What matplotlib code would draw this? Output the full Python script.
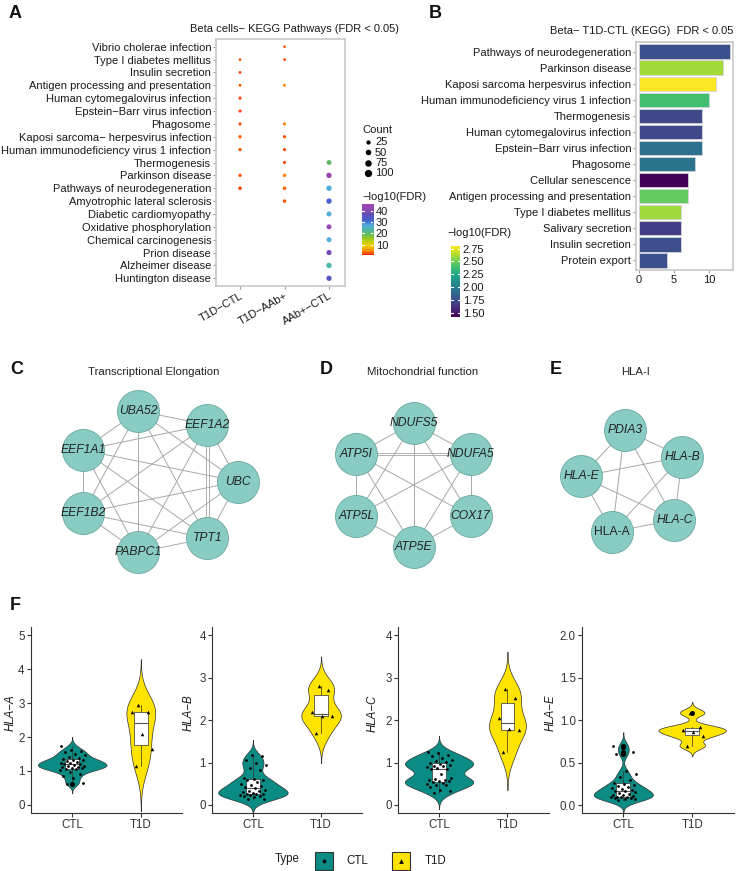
import numpy as np
import matplotlib
matplotlib.use('Agg')
import matplotlib.pyplot as plt
from matplotlib.colors import LinearSegmentedColormap, Normalize
from matplotlib.patches import Rectangle
import matplotlib.transforms as mtransforms
from itertools import combinations

# ---------------- DATA ----------------
pathways_A = ['Vibrio cholerae infection', 'Type I diabetes mellitus', 'Insulin secretion',
              'Antigen processing and presentation', 'Human cytomegalovirus infection',
              'Epstein\u2212Barr virus infection', 'Phagosome',
              'Kaposi sarcoma\u2212 herpesvirus infection',
              'Human immunodeficiency virus 1 infection', 'Thermogenesis', 'Parkinson disease',
              'Pathways of neurodegeneration', 'Amyotrophic lateral sclerosis',
              'Diabetic cardiomyopathy', 'Oxidative phosphorylation', 'Chemical carcinogenesis',
              'Prion disease', 'Alzheimer disease', 'Huntington disease']
comparisons_A = ['T1D\u2212CTL', 'T1D\u2212AAb+', 'AAb+\u2212CTL']

t1d_ctl_paths = ['Type I diabetes mellitus', 'Insulin secretion', 'Antigen processing and presentation',
                 'Human cytomegalovirus infection', 'Epstein\u2212Barr virus infection', 'Phagosome',
                 'Kaposi sarcoma\u2212 herpesvirus infection', 'Human immunodeficiency virus 1 infection',
                 'Parkinson disease', 'Pathways of neurodegeneration']
t1d_ctl_count = [6, 6, 7, 9, 9, 8, 11, 10, 12, 13]
t1d_ctl_logfdr = [2.61, 1.75, 2.47, 1.72, 1.93, 1.95, 2.79, 2.38, 2.61, 1.76]

t1d_aab_paths = ['Vibrio cholerae infection', 'Type I diabetes mellitus', 'Antigen processing and presentation',
                 'Phagosome', 'Kaposi sarcoma\u2212 herpesvirus infection',
                 'Human immunodeficiency virus 1 infection', 'Thermogenesis', 'Parkinson disease',
                 'Pathways of neurodegeneration', 'Amyotrophic lateral sclerosis']
t1d_aab_count = [5, 6, 8, 9, 11, 10, 10, 13, 14, 13]
t1d_aab_logfdr = [2.4, 2.0, 4.6, 4.2, 2.6, 2.5, 2.4, 4.3, 3.0, 2.6]

aab_ctl_paths = ['Thermogenesis', 'Parkinson disease', 'Pathways of neurodegeneration',
                 'Amyotrophic lateral sclerosis', 'Diabetic cardiomyopathy', 'Oxidative phosphorylation',
                 'Chemical carcinogenesis', 'Prion disease', 'Alzheimer disease', 'Huntington disease']
aab_ctl_count = [36, 46, 50, 47, 38, 37, 38, 42, 48, 44]
aab_ctl_logfdr = [20, 43, 27, 32, 27, 42, 27, 39, 24, 35]

count_breaks_A = [25, 50, 75, 100]
fdr_breaks_A = [10, 20, 30, 40]

pathways_B = ['Pathways of neurodegeneration', 'Parkinson disease', 'Kaposi sarcoma herpesvirus infection',
              'Human immunodeficiency virus 1 infection', 'Thermogenesis', 'Human cytomegalovirus infection',
              'Epstein\u2212Barr virus infection', 'Phagosome', 'Cellular senescence',
              'Antigen processing and presentation', 'Type I diabetes mellitus', 'Salivary secretion',
              'Insulin secretion', 'Protein export']
count_B = [13, 12, 11, 10, 9, 9, 9, 8, 7, 7, 6, 6, 6, 4]
logfdr_B = [1.76, 2.61, 2.79, 2.38, 1.72, 1.72, 1.93, 1.95, 1.43, 2.47, 2.60, 1.67, 1.75, 1.76]
fdr_breaks_B = [1.50, 1.75, 2.00, 2.25, 2.50, 2.75]
count_ticks_B = [0, 5, 10]

net_C_title = 'Transcriptional Elongation'
net_C_genes = ['UBC', 'EEF1A2', 'UBA52', 'EEF1A1', 'EEF1B2', 'PABPC1', 'TPT1']
net_C_edges = list(combinations(net_C_genes, 2))
net_C_double = [('EEF1A2', 'TPT1')]

net_D_title = 'Mitochondrial function'
net_D_genes = ['NDUFS5', 'ATP5I', 'ATP5L', 'ATP5E', 'COX17', 'NDUFA5']
net_D_edges = [e for e in combinations(net_D_genes, 2) if set(e) != {'ATP5L', 'COX17'}]
net_D_double = [('ATP5I', 'NDUFA5')]

net_E_title = 'HLA-I'
net_E_genes = ['PDIA3', 'HLA-B', 'HLA-C', 'HLA-A', 'HLA-E']
net_E_edges = list(combinations(net_E_genes, 2))
net_E_double = []
upright_genes = ['HLA-A']

groups_F = ['CTL', 'T1D']
genes_F = ['HLA\u2212A', 'HLA\u2212B', 'HLA\u2212C', 'HLA\u2212E']
ctl_A = [0.62, 0.66, 0.78, 0.85, 0.92, 0.98, 1.02, 1.05, 1.07, 1.08, 1.10, 1.12, 1.13, 1.15, 1.16,
         1.18, 1.20, 1.21, 1.23, 1.25, 1.27, 1.29, 1.31, 1.33, 1.35, 1.38, 1.42, 1.47, 1.50, 1.55,
         1.58, 1.63, 1.73]
t1d_A = [1.16, 1.65, 2.08, 2.75, 2.75, 2.95]
ctl_B = [0.13, 0.15, 0.18, 0.20, 0.22, 0.23, 0.24, 0.25, 0.26, 0.27, 0.28, 0.30, 0.32, 0.34, 0.36,
         0.40, 0.42, 0.44, 0.46, 0.50, 0.55, 0.58, 0.60, 0.62, 0.63, 0.82, 0.87, 0.95, 1.00, 1.05,
         1.15, 1.17]
t1d_B = [1.69, 2.09, 2.09, 2.20, 2.72, 2.80]
ctl_C = [0.28, 0.32, 0.36, 0.42, 0.46, 0.48, 0.50, 0.52, 0.54, 0.56, 0.57, 0.58, 0.60, 0.61, 0.63,
         0.72, 0.84, 0.86, 0.88, 0.90, 0.92, 0.93, 0.95, 0.97, 1.00, 1.02, 1.04, 1.07, 1.10, 1.15,
         1.18, 1.22, 1.25]
t1d_C = [1.24, 1.77, 1.80, 2.05, 2.53, 2.73]
ctl_E = [0.06, 0.07, 0.07, 0.08, 0.08, 0.09, 0.09, 0.10, 0.10, 0.11, 0.12, 0.12, 0.13, 0.14, 0.15,
         0.16, 0.17, 0.18, 0.19, 0.20, 0.21, 0.22, 0.24, 0.25, 0.26, 0.30, 0.33, 0.37, 0.40, 0.60,
         0.62, 0.69, 0.70]
t1d_E = [0.70, 0.81, 0.86, 0.89, 0.92, 1.09]
yticks_F = [[0, 1, 2, 3, 4, 5], [0, 1, 2, 3, 4], [0, 1, 2, 3, 4], [0.0, 0.5, 1.0, 1.5, 2.0]]

# ---------------- STYLE / LAYOUT ----------------
W, H = 736, 871
plt.rcParams['font.family'] = ['Liberation Sans', 'DejaVu Sans']
fig = plt.figure(figsize=(W / 100, H / 100), dpi=100)


def rect(l, t, r, b):
    return [l / W, 1 - b / H, (r - l) / W, (b - t) / H]


def P(x, y):
    return (x / W, 1 - y / H)


TXT = '#1a1a1a'
cA_vals = [1, 4, 9, 13, 19, 24, 27, 31, 36, 42, 46]
cA_cols = ['#FF2200', '#FF8000', '#F2D000', '#BFD000', '#66BB55', '#4DB8B0', '#55AEDB',
           '#4169D0', '#5E50B8', '#9448B0', '#A046B0']
cmapA = LinearSegmentedColormap.from_list(
    'rb', [((v - cA_vals[0]) / (cA_vals[-1] - cA_vals[0]), c) for v, c in zip(cA_vals, cA_cols)])
normA = Normalize(1, 46)
cmapB = plt.get_cmap('viridis')
normB = Normalize(1.42, 2.80)

# overlay axes in pixel coordinates
ov = fig.add_axes([0, 0, 1, 1], zorder=5)
ov.set_xlim(0, W)
ov.set_ylim(H, 0)
ov.axis('off')
ov.patch.set_alpha(0)

# panel letters
for lab, (x, y) in zip('ABCDEF', [(15, 14), (435, 13), (17, 370), (326, 370), (556, 370), (15, 605)]):
    fig.text(*P(x, y), lab, fontsize=13, fontweight='bold', ha='center', va='center', color='#111111')

# ---------------- PANEL A ----------------
axA = fig.add_axes(rect(216, 39, 345, 286))
nA = len(pathways_A)
ypos = {p: nA - i for i, p in enumerate(pathways_A)}


def size_fn(c):
    d_px = 0.6 * np.sqrt(np.asarray(c, float)) + 1.3
    return (d_px * 0.72) ** 2


for j, (paths, cnts, vals) in enumerate([(t1d_ctl_paths, t1d_ctl_count, t1d_ctl_logfdr),
                                         (t1d_aab_paths, t1d_aab_count, t1d_aab_logfdr),
                                         (aab_ctl_paths, aab_ctl_count, aab_ctl_logfdr)]):
    axA.scatter([j + 1] * len(paths), [ypos[p] for p in paths], s=size_fn(cnts), c=vals,
                cmap=cmapA, norm=normA, linewidths=0, zorder=3)
axA.set_xlim(0.46, 3.36)
axA.set_ylim(0.4, nA + 0.6)
axA.set_yticks(range(1, nA + 1))
axA.set_yticklabels(pathways_A[::-1])
axA.set_xticks([1, 2, 3])
axA.set_xticklabels(comparisons_A, rotation=30, ha='right', va='top', rotation_mode='anchor')
off = mtransforms.ScaledTranslation(16 / 100, 1 / 100, fig.dpi_scale_trans)
for lab in axA.get_xticklabels():
    lab.set_transform(lab.get_transform() + off)
for sp in axA.spines.values():
    sp.set_color('#c8c8c8')
    sp.set_linewidth(1.2)
axA.tick_params(length=2, color='#999999', labelsize=8, pad=1.5, labelcolor=TXT)
fig.text(*P(295, 29), 'Beta cells\u2212 KEGG Pathways (FDR < 0.05)', ha='center', va='center',
         fontsize=8, color=TXT)

# Count legend
ov.text(362, 130, 'Count', fontsize=8, va='center', ha='left', color=TXT)
for k, c in enumerate(count_breaks_A):
    yy = 142 + k * 10.5
    ov.scatter([368], [yy], s=size_fn([c]), color='black', linewidths=0)
    ov.text(375, yy, str(c), fontsize=8, va='center', ha='left', color=TXT)
ov.text(362, 197, '\u2212log10(FDR)', fontsize=8, va='center', ha='left', color=TXT)


def colorbar(l, t, r, b, cmap, norm, breaks, fmt):
    ax = fig.add_axes(rect(l, t, r, b))
    grad = np.linspace(norm.vmin, norm.vmax, 256)[:, None]
    ax.imshow(grad, origin='lower', extent=[0, 1, norm.vmin, norm.vmax], aspect='auto',
              cmap=cmap, norm=norm)
    ax.set_xlim(0, 1)
    ax.set_ylim(norm.vmin, norm.vmax)
    for v in breaks:
        ax.plot([0, 0.2], [v, v], color='white', lw=0.8)
        ax.plot([0.8, 1], [v, v], color='white', lw=0.8)
    ax.set_xticks([])
    ax.yaxis.tick_right()
    ax.set_yticks(breaks)
    ax.set_yticklabels([fmt.format(v) for v in breaks])
    ax.tick_params(axis='y', length=0, labelsize=8, pad=2, labelcolor=TXT)
    for sp in ax.spines.values():
        sp.set_visible(False)
    return ax


colorbar(362, 204, 373, 255, cmapA, normA, fdr_breaks_A, '{:d}')

# ---------------- PANEL B ----------------
axB = fig.add_axes(rect(636, 42, 733, 270))
nB = len(pathways_B)
yB = np.arange(nB, 0, -1)
axB.barh(yB, count_B, height=0.9, color=cmapB(normB(np.array(logfdr_B))), edgecolor='#d4d4dc',
         linewidth=0.6, zorder=3)
axB.set_xlim(-0.4, 13.4)
axB.set_ylim(0.4, nB + 0.6)
axB.set_yticks(yB)
axB.set_yticklabels(pathways_B)
axB.set_xticks(count_ticks_B)
for sp in axB.spines.values():
    sp.set_color('#c8c8c8')
    sp.set_linewidth(1.2)
axB.tick_params(length=2, color='#999999', labelsize=8, pad=1.5, labelcolor=TXT)
fig.text(*P(642, 31), 'Beta\u2212 T1D-CTL (KEGG)  FDR < 0.05', ha='center', va='center',
         fontsize=8, color=TXT)
ov.text(447, 233, '\u2212log10(FDR)', fontsize=8, va='center', ha='left', color=TXT)
colorbar(451, 246, 460, 317, cmapB, normB, fdr_breaks_B, '{:.2f}')

# ---------------- NETWORKS ----------------
NODE = '#88CCC3'


def network(genes, edges, doubles, cx, cy, rx, ry, start, step, title, tx):
    ang = np.deg2rad(start + step * np.arange(len(genes)))
    pos = {g: (cx + rx * np.cos(a), cy - ry * np.sin(a)) for g, a in zip(genes, ang)}
    dset = [set(d) for d in doubles]
    for a, b in edges:
        (x1, y1), (x2, y2) = pos[a], pos[b]
        if set((a, b)) in dset:
            L = np.hypot(x2 - x1, y2 - y1)
            nx, ny = -(y2 - y1) / L * 1.3, (x2 - x1) / L * 1.3
            for sgn in (-1, 1):
                ov.plot([x1 + sgn * nx, x2 + sgn * nx], [y1 + sgn * ny, y2 + sgn * ny],
                        color='#b0b0b0', lw=0.7, zorder=1)
        else:
            ov.plot([x1, x2], [y1, y2], color='#a8a8a8', lw=0.7, zorder=1)
    xs = [pos[g][0] for g in genes]
    ys = [pos[g][1] for g in genes]
    ov.scatter(xs, ys, s=(42 * 0.72) ** 2, color=NODE, edgecolors='#6aa8a0', linewidths=0.6,
               zorder=2)
    for g in genes:
        ov.text(pos[g][0], pos[g][1], g, ha='center', va='center', fontsize=8.7, color='#222222',
                style='normal' if g in upright_genes else 'italic', zorder=3)
    fig.text(*P(tx, 372), title, ha='center', va='center', fontsize=8.2, color='#222222')


network(net_C_genes, net_C_edges, net_C_double, 156.5, 481.5, 81.5, 72.5, 0, 360 / 7,
        net_C_title, 154)
network(net_D_genes, net_D_edges, net_D_double, 413.5, 485, 66, 62, 90, 60, net_D_title, 423)
network(net_E_genes, net_E_edges, net_E_double, 635, 483, 54, 54, 101, -72, net_E_title, 636)

# ---------------- PANEL F ----------------
COL = {'CTL': '#0A8C84', 'T1D': '#FFE400'}
MARK = {'CTL': 'o', 'T1D': '^'}
MS = {'CTL': 4.0, 'T1D': 6.5}
violin_halfwidth = [(0.50, 0.21), (0.51, 0.29), (0.50, 0.27), (0.43, 0.49)]


def kde(vals):
    v = np.asarray(vals, float)
    n = len(v)
    sd = v.std(ddof=1)
    q75, q25 = np.percentile(v, [75, 25])
    bw = 0.9 * min(sd, (q75 - q25) / 1.34) * n ** -0.2
    y = np.linspace(v.min() - 3 * bw, v.max() + 3 * bw, 512)
    d = np.exp(-0.5 * ((y[:, None] - v[None, :]) / bw) ** 2).sum(1) / (n * bw * np.sqrt(2 * np.pi))
    return y, d


def jitter(n, width=0.19):
    return ((np.arange(n) * 0.6180339887 + 0.31) % 1 - 0.5) * 2 * width


rects_F = [(31, 182), (212, 362), (398, 548.5), (582, 733.5)]
ylims_F = [(-0.24, 5.25), (-0.19, 4.2), (-0.19, 4.2), (-0.094, 2.1)]
ylab_x = [11, 189, 373, 551]
data_F = [(ctl_A, t1d_A), (ctl_B, t1d_B), (ctl_C, t1d_C), (ctl_E, t1d_E)]

for k in range(4):
    l, r = rects_F[k]
    ax = fig.add_axes(rect(l, 627, r, 813))
    for i, (grp, vals) in enumerate(zip(groups_F, data_F[k])):
        x0 = i + 1
        y, d = kde(vals)
        w = d / d.max() * violin_halfwidth[k][i]
        ax.fill_betweenx(y, x0 - w, x0 + w, facecolor=COL[grp], edgecolor='#333333', lw=0.5,
                         zorder=1)
        v = np.sort(np.asarray(vals, float))
        q1, med, q3 = np.percentile(v, [25, 50, 75])
        iqr = q3 - q1
        lo = v[v >= q1 - 1.5 * iqr].min()
        hi = v[v <= q3 + 1.5 * iqr].max()
        outl = v[(v < q1 - 1.5 * iqr) | (v > q3 + 1.5 * iqr)]
        ax.plot([x0, x0], [lo, q1], color='#333333', lw=0.5, zorder=2)
        ax.plot([x0, x0], [q3, hi], color='#333333', lw=0.5, zorder=2)
        ax.add_patch(Rectangle((x0 - 0.1, q1), 0.2, q3 - q1, facecolor='white',
                               edgecolor='#333333', lw=0.5, zorder=2))
        ax.plot([x0 - 0.1, x0 + 0.1], [med, med], color='#555555', lw=0.8, zorder=2.5)
        if len(outl):
            ax.scatter([x0] * len(outl), outl, s=13, color='black', linewidths=0, zorder=3)
        vv = np.asarray(vals, float)
        ax.scatter(x0 + jitter(len(vv)), vv, s=MS[grp], marker=MARK[grp], color='black',
                   linewidths=0, zorder=4)
    ax.set_xlim(0.4, 2.6)
    ax.set_ylim(*ylims_F[k])
    ax.set_xticks([1, 2])
    ax.set_xticklabels(groups_F)
    ax.set_yticks(yticks_F[k])
    if k == 3:
        ax.set_yticklabels(['{:.1f}'.format(t) for t in yticks_F[k]])
    for s in ['top', 'right']:
        ax.spines[s].set_visible(False)
    for s in ['left', 'bottom']:
        ax.spines[s].set_color('#333333')
        ax.spines[s].set_linewidth(0.8)
    ax.tick_params(length=3, color='#333333', labelsize=8.3, labelcolor='#333333', pad=1.5)
    ax.patch.set_alpha(0)
    fig.text(*P(ylab_x[k], 713), genes_F[k], rotation=90, ha='center', va='center',
             fontsize=8.3, style='italic', color=TXT)

# legend F
ov.text(287, 859, 'Type', fontsize=8.3, ha='center', va='center', color=TXT)
for grp, bx, tx in [('CTL', 315, 346), ('T1D', 392, 425)]:
    ov.add_patch(Rectangle((bx, 852), 18, 18, facecolor=COL[grp], edgecolor='#333333', lw=0.8))
    ov.scatter([bx + 9], [861], s=MS[grp] * 1.8, marker=MARK[grp], color='black', linewidths=0)
    ov.text(tx, 861, grp, fontsize=8.3, ha='left', va='center', color=TXT)

fig.savefig('out.png', dpi=100)
